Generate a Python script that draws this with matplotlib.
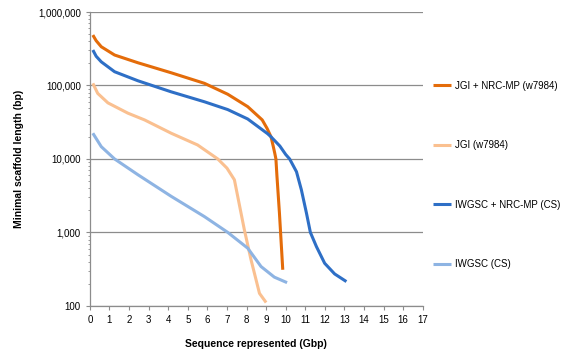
import matplotlib
matplotlib.use("Agg")
import matplotlib.pyplot as plt
from matplotlib.ticker import FuncFormatter, LogLocator, MultipleLocator
import numpy as np

plt.rcParams['font.family'] = ['Liberation Sans', 'DejaVu Sans']

# scaffold length curves: sequence represented (Gbp) vs minimal scaffold length (bp)
jgi_nrc_x = [0.15, 0.32, 0.58, 1.26, 2.45, 4.15, 5.85, 7.04, 8.06, 8.8, 9.05, 9.25, 9.36, 9.44, 9.5, 9.55,
             9.68, 9.85]
jgi_nrc_y = [486000, 407000, 337000, 260000, 204000, 149000, 107000, 76000, 51500, 34000, 26000, 20000,
             15000, 12000, 10000, 6000, 1830, 310]

jgi_x = [0.15, 0.4, 0.92, 1.94, 2.79, 4.15, 5.5, 6.53, 7.0, 7.38, 7.89, 8.23, 8.66, 9.0]
jgi_y = [107000, 78000, 58000, 42000, 34000, 22400, 15500, 10000, 7500, 5200, 1080, 423, 148, 111]

iwgsc_nrc_x = [0.15, 0.32, 0.58, 1.26, 2.45, 4.15, 5.85, 7.04, 8.06, 9.08, 9.25, 9.7, 10.0, 10.2, 10.55,
               10.8, 11.06, 11.26, 11.57, 11.99, 12.5, 13.1]
iwgsc_nrc_y = [304000, 250000, 210000, 154000, 116000, 82000, 60000, 47000, 35000, 22000, 20000, 15000,
               11500, 10000, 6700, 3800, 1830, 1000, 640, 380, 272, 214]

iwgsc_x = [0.15, 0.58, 1.26, 2.45, 4.15, 5.85, 7.04, 8.06, 8.74, 9.42, 10.07]
iwgsc_y = [22400, 14700, 10000, 6100, 3100, 1640, 1000, 610, 343, 246, 207]

series = [
    ("JGI + NRC-MP (w7984)", jgi_nrc_x, jgi_nrc_y, "#E46C0A"),
    ("JGI (w7984)", jgi_x, jgi_y, "#FAC090"),
    ("IWGSC + NRC-MP (CS)", iwgsc_nrc_x, iwgsc_nrc_y, "#2E6FC6"),
    ("IWGSC (CS)", iwgsc_x, iwgsc_y, "#8EB4E3"),
]

fig = plt.figure(figsize=(5.69, 3.54), dpi=100)
ax = fig.add_axes([0.158, 0.136, 0.585, 0.830])

for label, xs, ys, color in series:
    ax.plot(xs, ys, color=color, lw=2.2, label=label, solid_capstyle='butt', solid_joinstyle='round')

ax.set_yscale('log')
ax.set_ylim(100, 1e6)
ax.set_xlim(0, 17)
ax.xaxis.set_major_locator(MultipleLocator(1))
ax.yaxis.set_major_locator(LogLocator(base=10))
ax.yaxis.set_minor_locator(LogLocator(base=10, subs=np.arange(2, 10)))
ax.yaxis.set_major_formatter(FuncFormatter(lambda v, p: f"{int(v):,}"))

ax.grid(True, which='major', axis='y', color='#8c8c8c', lw=0.9)
ax.set_axisbelow(True)
for s in ['top', 'right']:
    ax.spines[s].set_visible(False)
for s in ['left', 'bottom']:
    ax.spines[s].set_color('#8c8c8c')
    ax.spines[s].set_linewidth(0.9)

ax.tick_params(axis='both', which='major', labelsize=7, color='#8c8c8c', length=3, width=0.8)
ax.tick_params(axis='y', which='minor', color='#8c8c8c', length=1.5, width=0.6)

ax.set_xlabel("Sequence represented (Gbp)", fontsize=7.5, fontweight='bold', labelpad=10)
ax.set_ylabel("Minimal scaffold length (bp)", fontsize=7.5, fontweight='bold', labelpad=10)

ax.legend(loc='upper left', bbox_to_anchor=(0.752, 0.786), bbox_transform=fig.transFigure,
          frameon=False, fontsize=7, handlelength=1.9, handletextpad=0.4,
          labelspacing=5.1, borderpad=0)

fig.savefig("out.png", dpi=100)
